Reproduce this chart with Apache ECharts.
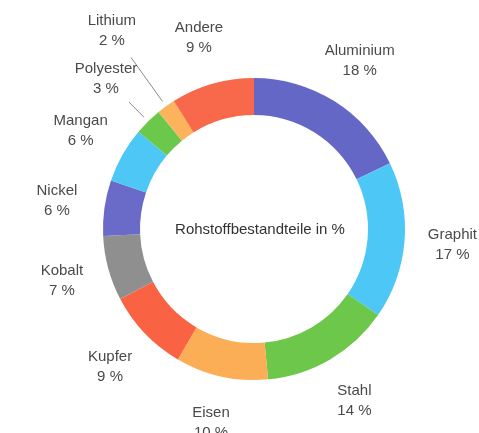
<!DOCTYPE html>
<html>
<head>
<meta charset="utf-8">
<script src="https://cdn.jsdelivr.net/npm/echarts@6/dist/echarts.min.js"></script>
<style>
  html, body { margin: 0; padding: 0; background: #fff; }
  #chart { width: 479px; height: 433px; }
</style>
</head>
<body>
<div id="chart"></div>
<script>
// Rohstoffbestandteile (Anteil in %), clockwise from 12 o'clock
const materials = ['Aluminium', 'Graphit', 'Stahl', 'Eisen', 'Kupfer', 'Kobalt', 'Nickel', 'Mangan', 'Polyester', 'Lithium', 'Andere']
const shares = [18, 17, 14, 10, 9, 7, 6, 6, 3, 2, 9]
const sliceColors = ['#6467c6', '#4dc7f6', '#6cc74a', '#fbae56', '#f96242', '#8f8f8f', '#6a6ac8', '#4dc7f6', '#6bc84a', '#fcb35c', '#f8684a']
const centerTitle = 'Rohstoffbestandteile in %'

const cx = 254
const cy = 229
const fontFamily = '"Liberation Sans", Arial, Helvetica, sans-serif'

// labels sit on a circle round the ring; the two small slices are pushed further out
const labelRadius = 199
const pushedOut = { Polyester: 211, Lithium: 244 }
const withGuide = ['Polyester', 'Lithium']

const total = shares.reduce((a, b) => a + b, 0)
const midAngles = []
let acc = 0
shares.forEach(v => {
  midAngles.push((acc + v / 2) / total * Math.PI * 2)
  acc += v
})

const chart = echarts.init(document.getElementById('chart'))

chart.setOption({
  animation: false,
  graphic: [{
    type: 'text',
    x: 260,
    y: 230,
    style: {
      text: centerTitle,
      fill: '#333',
      font: '15px ' + fontFamily,
      textAlign: 'center',
      textVerticalAlign: 'middle'
    }
  }],
  series: [{
    type: 'pie',
    center: [cx, cy],
    radius: [114, 151],
    startAngle: 90,
    clockwise: true,
    avoidLabelOverlap: false,
    data: materials.map((name, i) => ({
      name: name,
      value: shares[i],
      itemStyle: { color: sliceColors[i] },
      labelLine: { show: withGuide.includes(name) }
    })),
    label: {
      show: true,
      position: 'outside',
      formatter: p => p.name + '\n' + p.value + ' %',
      color: '#4a4a4a',
      fontSize: 15,
      lineHeight: 20,
      fontFamily: fontFamily,
      align: 'center'
    },
    labelLine: {
      length: 10,
      length2: 0,
      lineStyle: { color: '#8a8a8a', width: 1 }
    },
    labelLayout: function (params) {
      const i = params.dataIndex
      const a = midAngles[i]
      const r = pushedOut[materials[i]] || labelRadius
      const out = {
        x: cx + r * Math.sin(a),
        y: cy - r * Math.cos(a),
        align: 'center',
        verticalAlign: 'middle'
      }
      if (withGuide.includes(materials[i])) {
        out.labelLinePoints = [
          [cx + 157 * Math.sin(a), cy - 157 * Math.cos(a)],
          [cx + (r - 33) * Math.sin(a), cy - (r - 33) * Math.cos(a)]
        ]
      }
      return out
    }
  }]
})
</script>
</body>
</html>
